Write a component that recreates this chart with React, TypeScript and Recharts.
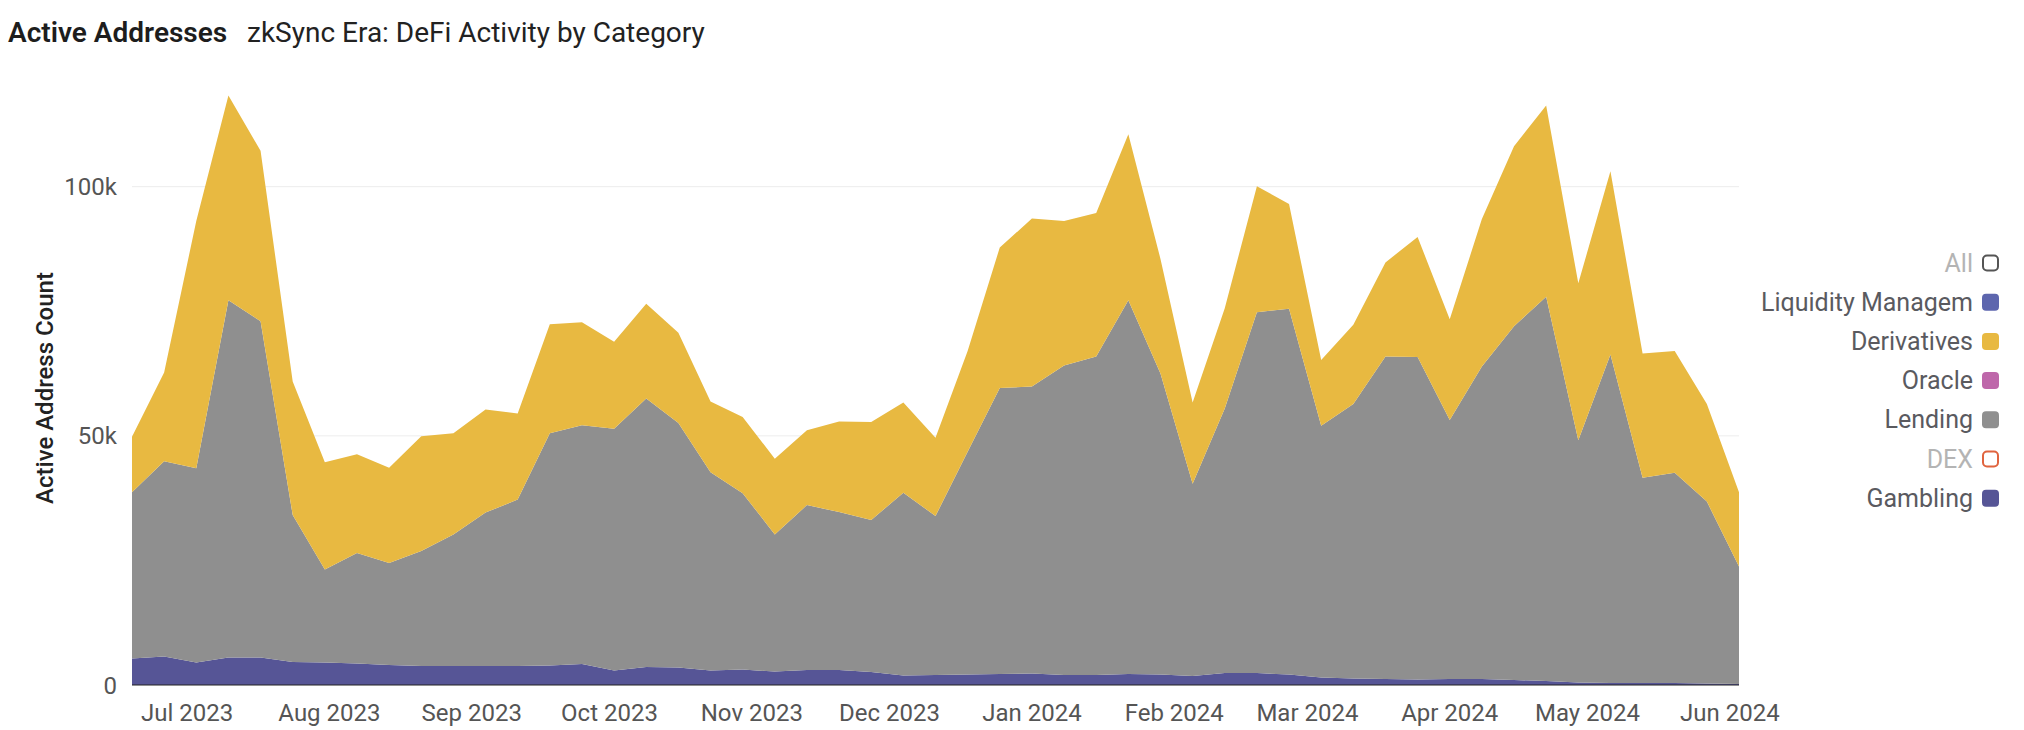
import React from 'react';
import { AreaChart, Area, XAxis, YAxis, CartesianGrid } from 'recharts';

// weekly buckets (Monday)
const weeks = [
  '2023-06-19', '2023-06-26', '2023-07-03', '2023-07-10', '2023-07-17', '2023-07-24', '2023-07-31',
  '2023-08-07', '2023-08-14', '2023-08-21', '2023-08-28', '2023-09-04', '2023-09-11', '2023-09-18',
  '2023-09-25', '2023-10-02', '2023-10-09', '2023-10-16', '2023-10-23', '2023-10-30', '2023-11-06',
  '2023-11-13', '2023-11-20', '2023-11-27', '2023-12-04', '2023-12-11', '2023-12-18', '2023-12-25',
  '2024-01-01', '2024-01-08', '2024-01-15', '2024-01-22', '2024-01-29', '2024-02-05', '2024-02-12',
  '2024-02-19', '2024-02-26', '2024-03-04', '2024-03-11', '2024-03-18', '2024-03-25', '2024-04-01',
  '2024-04-08', '2024-04-15', '2024-04-22', '2024-04-29', '2024-05-06', '2024-05-13', '2024-05-20',
  '2024-05-27', '2024-06-03',
];

const gambling = [
  5300, 5700, 4500, 5500, 5500, 4600, 4500, 4300, 4000, 3800, 3800, 3800, 3800, 3900, 4200, 2900, 3600,
  3500, 2900, 3100, 2700, 3000, 3000, 2600, 1900, 2000, 2100, 2200, 2300, 2000, 2000, 2200, 2100, 1800,
  2400, 2400, 2100, 1500, 1300, 1200, 1100, 1200, 1200, 1000, 800, 500, 400, 400, 400, 300, 200,
];

const lending = [
  33400, 39200, 39000, 71700, 67500, 29500, 18700, 22200, 20500, 23100, 26400, 30800, 33400, 46600,
  47900, 48500, 53900, 49100, 39800, 35400, 27500, 33100, 31700, 30500, 36700, 31900, 44700, 57400,
  57600, 62100, 63900, 75000, 60400, 38600, 53100, 72400, 73400, 50500, 55100, 64700, 64700, 52000,
  62700, 71000, 77100, 48600, 65900, 41200, 42200, 36500, 23600,
];

const derivatives = [
  11100, 17800, 49600, 41100, 34200, 26800, 21500, 19800, 19100, 23000, 20300, 20700, 17300, 21900,
  20700, 17500, 19000, 18100, 14200, 15300, 15200, 15000, 18200, 19700, 18100, 15700, 20200, 28200,
  33700, 29000, 28800, 33300, 23000, 16300, 20100, 25300, 21000, 13200, 15900, 18900, 24100, 20200,
  29600, 36100, 38400, 31500, 36800, 24900, 24400, 19600, 14900,
];

const monthTicks = [
  '2023-07-01', '2023-08-01', '2023-09-01', '2023-10-01', '2023-11-01', '2023-12-01',
  '2024-01-01', '2024-02-01', '2024-03-01', '2024-04-01', '2024-05-01', '2024-06-01',
];
const monthLabels = [
  'Jul 2023', 'Aug 2023', 'Sep 2023', 'Oct 2023', 'Nov 2023', 'Dec 2023',
  'Jan 2024', 'Feb 2024', 'Mar 2024', 'Apr 2024', 'May 2024', 'Jun 2024',
];

const yTicks = [0, 50000, 100000];
const gridValues = [50000, 100000];

const legendItems = [
  { name: 'All', color: '#555555', active: false },
  { name: 'Liquidity Managem', color: '#5D66AE', active: true },
  { name: 'Derivatives', color: '#E8B941', active: true },
  { name: 'Oracle', color: '#BE67AA', active: true },
  { name: 'Lending', color: '#8F8F8F', active: true },
  { name: 'DEX', color: '#E0643F', active: false },
  { name: 'Gambling', color: '#565596', active: true },
];

const toTs = (d: string) => new Date(d + 'T00:00:00Z').getTime();

const data = weeks.map((w, i) => ({
  ts: toTs(w),
  gambling: gambling[i],
  lending: lending[i],
  derivatives: derivatives[i],
}));

const tickTs = monthTicks.map(toTs);

const FONT = 'Roboto, "Noto Sans", sans-serif';

export default function App() {
  return (
    <div style={{ position: 'absolute', left: 0, top: 0, width: 2024, height: 730, background: '#fff', fontFamily: FONT }}>
      <AreaChart width={2024} height={730} data={data} margin={{ top: 87, right: 285, bottom: 0, left: 52 }}>
        <CartesianGrid vertical={false} stroke="#ededed" horizontalValues={gridValues} />
        <XAxis
          dataKey="ts"
          type="number"
          domain={['dataMin', 'dataMax']}
          ticks={tickTs}
          interval={0}
          height={45}
          tickFormatter={(v: number) => monthLabels[tickTs.indexOf(v)]}
          axisLine={{ stroke: '#222', strokeWidth: 1.2 }}
          tickLine={false}
          tickSize={6}
          tickMargin={13}
          tick={{ fill: '#555', fontSize: 24, fontFamily: FONT }}
        />
        <YAxis
          width={80}
          domain={[0, 120000]}
          ticks={yTicks}
          tickFormatter={(v: number) => (v === 0 ? '0' : v / 1000 + 'k')}
          axisLine={false}
          tickLine={false}
          tickSize={6}
          tickMargin={9}
          tick={{ fill: '#555', fontSize: 24, fontFamily: FONT }}
        />
        <Area type="linear" dataKey="gambling" stackId="1" stroke="none" fill="#565596" fillOpacity={1} isAnimationActive={false} />
        <Area type="linear" dataKey="lending" stackId="1" stroke="none" fill="#8F8F8F" fillOpacity={1} isAnimationActive={false} />
        <Area type="linear" dataKey="derivatives" stackId="1" stroke="none" fill="#E8B941" fillOpacity={1} isAnimationActive={false} />
      </AreaChart>
      <svg width={2024} height={730} style={{ position: 'absolute', left: 0, top: 0, pointerEvents: 'none' }}>
        <text x={8} y={42} fontSize={28} fontWeight={600} fill="#1d1d1d" fontFamily={FONT}>Active Addresses</text>
        <text x={247} y={42} fontSize={28} fill="#222" fontFamily={FONT}>zkSync Era: DeFi Activity by Category</text>
        <text
          x={45}
          y={388}
          transform="rotate(-90 45 388)"
          textAnchor="middle"
          dominantBaseline="central"
          fontSize={24}
          fontWeight={500}
          fill="#222"
          fontFamily={FONT}
        >
          Active Address Count
        </text>
        {legendItems.map((it, i) => {
          const cy = 263 + i * 39.2;
          return (
            <g key={it.name}>
              <text
                x={1973}
                y={cy}
                textAnchor="end"
                dominantBaseline="central"
                fontSize={25}
                fill={it.active ? '#5a5a5f' : '#b4b4b4'}
                fontFamily={FONT}
              >
                {it.name}
              </text>
              <rect
                x={it.active ? 1982 : 1983}
                y={it.active ? cy - 8.5 : cy - 7.5}
                width={it.active ? 17 : 15}
                height={it.active ? 17 : 15}
                rx={4}
                fill={it.active ? it.color : '#fff'}
                stroke={it.active ? 'none' : it.color}
                strokeWidth={2}
              />
            </g>
          );
        })}
      </svg>
    </div>
  );
}
